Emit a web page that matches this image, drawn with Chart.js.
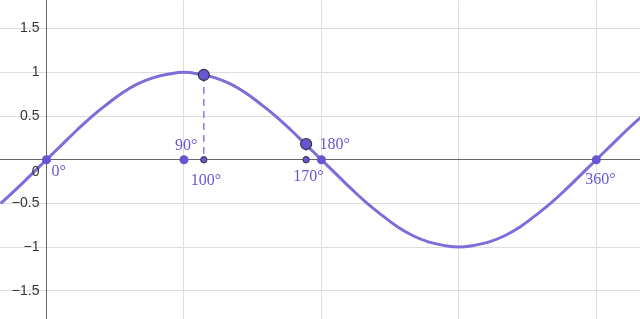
<!DOCTYPE html>
<html>
<head>
<meta charset="utf-8">
<script src="https://cdn.jsdelivr.net/npm/chart.js@4/dist/chart.umd.min.js"></script>
<style>
  html, body { margin: 0; padding: 0; background: #fff; }
  #wrap { width: 640px; height: 319px; overflow: hidden; }
  #sine { display: block; }
</style>
</head>
<body>
<div id="wrap"><canvas id="sine" width="640" height="360"></canvas></div>
<script>
// curve, every 10 degrees
const curveAngles = [-30, -20, -10, 0, 10, 20, 30, 40, 50, 60, 70, 80, 90, 100, 110, 120, 130, 140, 150, 160,
  170, 180, 190, 200, 210, 220, 230, 240, 250, 260, 270, 280, 290, 300, 310, 320, 330, 340, 350, 360, 370, 380, 390];
const curveValues = [-0.5, -0.34, -0.17, 0, 0.17, 0.34, 0.5, 0.64, 0.77, 0.87, 0.94, 0.98, 1, 0.98, 0.94, 0.87, 0.77, 0.64, 0.5, 0.34,
  0.17, 0, -0.17, -0.34, -0.5, -0.64, -0.77, -0.87, -0.94, -0.98, -1, -0.98, -0.94, -0.87, -0.77, -0.64, -0.5, -0.34, -0.17, 0, 0.17, 0.34, 0.5];

// big points sitting on the x axis
const axisPointAngles = [0, 90, 180, 360];
const axisPointLabels = ["0°", "90°", "180°", "360°"];

// points on the curve and their feet on the axis
const curvePointAngles = [103, 170];
const curvePointValues = [0.97, 0.18];
const footLabels = ["100°", "170°"];

const yTicks = [-1.5, -1, -0.5, 0, 0.5, 1, 1.5];
const xGridAngles = [-90, 0, 90, 180, 270, 360];

const purple = "#6557d2";
const curveColor = "#7b6edb";
const yMin = -1.827, yMax = 1.823;

// label offsets in px from the point they belong to
const axisLabelOffsets = [[5, 16], [-9, -10], [-2, -11], [-11, 24]];
const footLabelOffsets = [[-13, 25], [-13, 21]];

const labelPlugin = {
  id: "degreeLabels",
  afterDatasetsDraw(chart) {
    const ctx = chart.ctx;
    const xs = chart.scales.x, ys = chart.scales.y;
    ctx.save();
    ctx.textAlign = "left";
    ctx.textBaseline = "alphabetic";
    ctx.font = "16px 'Liberation Serif', serif";
    ctx.fillStyle = purple;
    axisPointAngles.forEach((a, i) => {
      const px = xs.getPixelForValue(a), py = ys.getPixelForValue(0);
      ctx.fillText(axisPointLabels[i], px + axisLabelOffsets[i][0], py + axisLabelOffsets[i][1]);
    });
    curvePointAngles.forEach((a, i) => {
      const px = xs.getPixelForValue(a), py = ys.getPixelForValue(0);
      ctx.fillText(footLabels[i], px + footLabelOffsets[i][0], py + footLabelOffsets[i][1]);
    });
    // origin label, the y axis skips it
    ctx.font = "14px 'Liberation Sans', sans-serif";
    ctx.fillStyle = "#333";
    ctx.textAlign = "right";
    ctx.fillText("0", xs.getPixelForValue(0) - 7, ys.getPixelForValue(0) + 16);
    ctx.restore();
  }
};

const curveData = curveAngles.map((a, i) => ({ x: a, y: curveValues[i] }));
const dropLines = [];
curvePointAngles.forEach((a, i) => {
  dropLines.push({ x: a, y: curvePointValues[i] }, { x: a, y: 0 }, { x: NaN, y: NaN });
});

const canvas = document.getElementById("sine");
const chart = new Chart(canvas, {
  type: "line",
  data: {
    datasets: [
      {
        data: curvePointAngles.map((a, i) => ({ x: a, y: curvePointValues[i] })),
        showLine: false,
        pointRadius: 5.5,
        pointBackgroundColor: purple,
        pointBorderColor: "#333",
        pointBorderWidth: 1.2
      },
      {
        data: curvePointAngles.map(a => ({ x: a, y: 0 })),
        showLine: false,
        pointRadius: 3.2,
        pointBackgroundColor: purple,
        pointBorderColor: "#333",
        pointBorderWidth: 1
      },
      {
        data: axisPointAngles.map(a => ({ x: a, y: 0 })),
        showLine: false,
        pointRadius: 4.5,
        pointBackgroundColor: purple,
        pointBorderColor: purple,
        pointBorderWidth: 0
      },
      {
        data: dropLines,
        borderColor: "#8a7fe0",
        borderWidth: 1.5,
        borderDash: [7, 5],
        pointRadius: 0,
        spanGaps: false
      },
      {
        data: curveData,
        borderColor: curveColor,
        borderWidth: 3,
        pointRadius: 0,
        tension: 0.4
      }
    ]
  },
  options: {
    responsive: false,
    maintainAspectRatio: false,
    animation: false,
    layout: { padding: 0, autoPadding: false },
    plugins: { legend: { display: false }, tooltip: { enabled: false } },
    scales: {
      x: {
        type: "linear",
        position: { y: 0 },
        min: -30.45,
        max: 388.6,
        afterBuildTicks: s => { s.ticks = xGridAngles.map(v => ({ value: v })); },
        ticks: { display: false },
        grid: { color: "#dedede", lineWidth: 1, drawTicks: false },
        border: { color: "#666", width: 1 }
      },
      y: {
        type: "linear",
        position: { x: 0 },
        min: yMin,
        max: yMax,
        afterBuildTicks: s => { s.ticks = yTicks.map(v => ({ value: v })); },
        ticks: { display: false },
        grid: { color: "#dedede", lineWidth: 1, drawTicks: false },
        border: { color: "#666", width: 1 }
      },
      // labels only, set a few px left of the axis line
      yLabels: {
        type: "linear",
        axis: "y",
        position: { x: -4.6 },
        min: yMin,
        max: yMax,
        afterBuildTicks: s => { s.ticks = yTicks.map(v => ({ value: v })); },
        ticks: {
          color: "#333",
          font: { family: "'Liberation Sans', sans-serif", size: 14 },
          callback: v => v === 0 ? "" : String(v).replace("-", "\u2212")
        },
        grid: { display: false, drawTicks: false },
        border: { display: false }
      }
    }
  },
  plugins: [labelPlugin]
});

// the y labels reserve room above and below; grow the canvas and shift it so the plot fills the window
const padTop = chart.chartArea.top;
const padBottom = chart.height - chart.chartArea.bottom;
chart.resize(640, 319 + padTop + padBottom);
canvas.style.marginTop = -padTop + "px";
</script>
</body>
</html>
